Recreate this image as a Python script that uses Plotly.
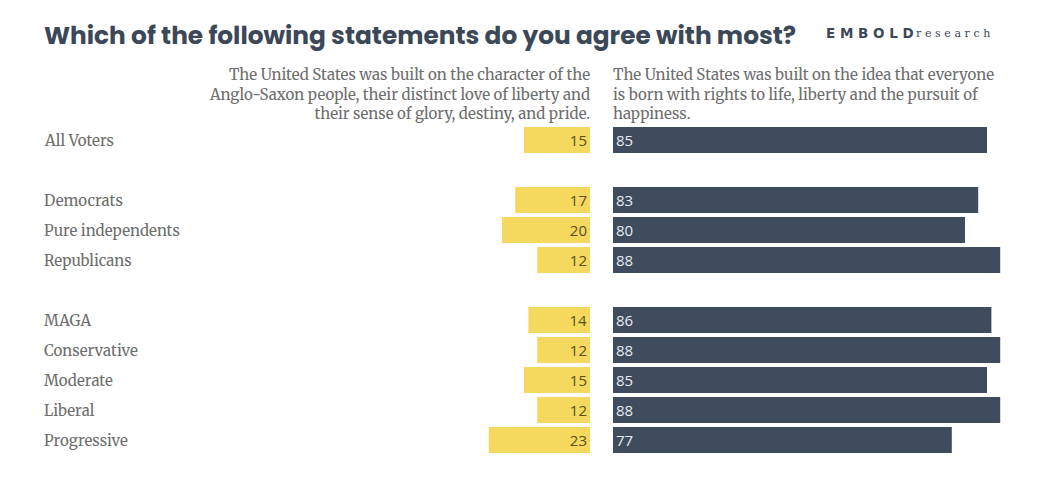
import plotly.graph_objects as go

groups = ["All Voters", " ", "Democrats", "Pure independents", "Republicans", "  ",
          "MAGA", "Conservative", "Moderate", "Liberal", "Progressive"]
rows = ["All Voters", "Democrats", "Pure independents", "Republicans",
        "MAGA", "Conservative", "Moderate", "Liberal", "Progressive"]
anglo = [15, 17, 20, 12, 14, 12, 15, 12, 23]
rights = [85, 83, 80, 88, 86, 88, 85, 88, 77]

title = "Which of the following statements do you agree with most?"
left_head = ("The United States was built on the character of the<br>"
             "Anglo-Saxon people, their distinct love of liberty and<br>"
             "their sense of glory, destiny, and pride.")
right_head = ("The United States was built on the idea that everyone<br>"
              "is born with rights to life, liberty and the pursuit of<br>"
              "happiness.")

OFF = 8                      # default page margin of the browser body
WIN_W, WIN_H = 1060, 500
FW, FH = WIN_W - 2 * OFF, WIN_H - 2 * OFF
PLOT_TOP, PLOT_BOT = 125, 455  # window pixels

YELLOW = "#F5D85E"
NAVY = "#3F4C5D"
GRAY = "#6E6E6E"
SERIF = "Merriweather, 'DejaVu Serif', serif"
SANS = "'Source Sans Pro', 'Open Sans', sans-serif"


def px(X):
    return (X - OFF) / FW


def py(Y):
    return (PLOT_BOT - Y) / (PLOT_BOT - PLOT_TOP)


px_per = 4.4
lx0, lx1 = 450, 590
rx0, rx1 = 613, 1013

fig = go.Figure()
fig.add_trace(go.Bar(
    y=rows, x=anglo, orientation="h", xaxis="x", yaxis="y",
    marker=dict(color=YELLOW, line=dict(width=0)),
    text=[str(v) for v in anglo], textposition="inside", insidetextanchor="start",
    textangle=0, constraintext="none",
    textfont=dict(family=SANS, size=15, color="#5B4E1C"),
    hoverinfo="skip", showlegend=False,
))
fig.add_trace(go.Bar(
    y=rows, x=rights, orientation="h", xaxis="x2", yaxis="y",
    marker=dict(color=NAVY, line=dict(width=0)),
    text=[str(v) for v in rights], textposition="inside", insidetextanchor="start",
    textangle=0, constraintext="none",
    textfont=dict(family=SANS, size=15, color="#E6EAEE"),
    hoverinfo="skip", showlegend=False,
))

annotations = []
for r in rows:
    annotations.append(dict(
        x=px(42), xref="paper", xanchor="left", y=r, yref="y", yanchor="middle",
        text=r, showarrow=False, font=dict(family=SERIF, size=15, color=GRAY),
    ))
annotations.append(dict(
    x=px(42), xref="paper", xanchor="left", y=py(35), yref="paper", yanchor="middle",
    text="<b>" + title + "</b>", showarrow=False,
    font=dict(family="Poppins, Inter, 'Noto Sans', sans-serif", size=24.8, color="#3C4858"),
))
annotations.append(dict(
    x=px(824), xref="paper", xanchor="left", y=py(33), yref="paper", yanchor="middle",
    text="<b>E M B O L D</b>", showarrow=False,
    font=dict(family="'DejaVu Sans', sans-serif", size=13.5, color="#3C4858"),
))
annotations.append(dict(
    x=px(914), xref="paper", xanchor="left", y=py(34), yref="paper", yanchor="middle",
    text="r\u2004e\u2004s\u2004e\u2004a\u2004r\u2004c\u2004h", showarrow=False,
    font=dict(family="'DejaVu Serif', serif", size=11, color="#3C4858"),
))
annotations.append(dict(
    x=px(lx1 + 2), xref="paper", xanchor="right", y=py(94), yref="paper", yanchor="middle",
    text=left_head, align="right", showarrow=False,
    font=dict(family=SERIF, size=15, color=GRAY),
))
annotations.append(dict(
    x=px(rx0 - 2), xref="paper", xanchor="left", y=py(94), yref="paper", yanchor="middle",
    text=right_head, align="left", showarrow=False,
    font=dict(family=SERIF, size=15, color=GRAY),
))

fig.update_layout(
    width=FW, height=FH,
    margin=dict(l=0, r=0, t=PLOT_TOP - OFF, b=FH - (PLOT_BOT - OFF)),
    paper_bgcolor="white", plot_bgcolor="white",
    bargap=0.14,
    xaxis=dict(domain=[px(lx0), px(lx1)], range=[(lx1 - lx0) / px_per, 0],
               visible=False, fixedrange=True),
    xaxis2=dict(domain=[px(rx0), px(rx1)], range=[0, (rx1 - rx0) / px_per],
                visible=False, fixedrange=True, anchor="y"),
    yaxis=dict(categoryorder="array", categoryarray=groups, range=[10.5, -0.5],
               type="category", visible=False, fixedrange=True),
    annotations=annotations,
)

fig.write_html("out.html")
